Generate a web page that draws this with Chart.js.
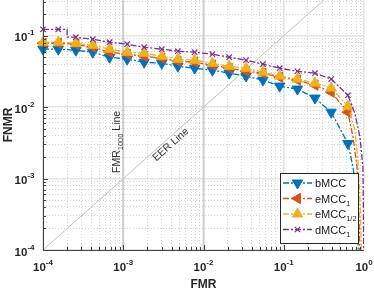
<!DOCTYPE html>
<html lang="en">
<head>
<meta charset="UTF-8">
<title>DET curves</title>
<style>
  html, body { margin: 0; padding: 0; background: #fff; }
  #det { display: block; }
</style>
</head>
<body>
<canvas id="det" width="374" height="289"></canvas>
<script src="https://cdn.jsdelivr.net/npm/chart.js@4.4.0/dist/chart.umd.min.js"></script>
<script>
// FMR positions of the markers (shared by all curves)
const fmr = [1e-4, 1.55e-4, 2.57e-4, 4.17e-4, 6.76e-4, 1.12e-3, 1.82e-3, 3.02e-3, 4.79e-3, 7.76e-3,
             1.29e-2, 2.09e-2, 3.39e-2, 5.5e-2, 8.9e-2, 0.148, 0.245, 0.39, 0.63];

// FNMR at the markers
const bMCC     = [0.0648, 0.0648, 0.0627, 0.0588, 0.050, 0.0469, 0.0426, 0.0412, 0.0374, 0.0351,
                  0.0329, 0.0299, 0.0272, 0.0239, 0.0197, 0.0179, 0.0134, 0.0085, 0.0031];
const eMCC1    = [0.0785, 0.0785, 0.076, 0.069, 0.0588, 0.0551, 0.0516, 0.0484, 0.044, 0.0426,
                  0.0387, 0.0351, 0.0318, 0.0299, 0.0263, 0.0239, 0.0203, 0.0162, 0.0085];
const eMCCHalf = [0.0811, 0.0811, 0.0785, 0.0736, 0.0648, 0.0588, 0.0569, 0.0516, 0.0469, 0.0454,
                  0.0412, 0.0374, 0.0351, 0.0309, 0.0272, 0.0247, 0.0217, 0.0185, 0.0103];
const dMCC1    = [0.123, 0.123, 0.0953, 0.0893, 0.0811, 0.076, 0.069, 0.0648, 0.0607, 0.0588,
                  0.0551, 0.050, 0.0454, 0.0399, 0.0351, 0.0318, 0.0299, 0.0247, 0.0147];

// extra curve points without markers (steps and the drop near FMR = 1)
const bExtraFmr  = [0.73, 0.82, 0.84, 0.87];
const bExtra     = [0.00145, 0.0005, 0.00017, 0.00001];
const e1ExtraFmr = [0.73, 0.82, 0.86, 0.89, 0.91];
const e1Extra    = [0.0038, 0.00145, 0.0004, 0.00008, 0.00001];
const ehExtraFmr = [0.77, 0.84, 0.9, 0.94, 0.95];
const ehExtra    = [0.0048, 0.0018, 0.0004, 0.00005, 0.00001];
const dExtraFmr  = [2.0e-4, 2.0e-4, 0.77, 0.89, 0.97, 0.985, 0.995];
const dExtra     = [0.123, 0.0953, 0.0082, 0.0038, 0.00145, 0.0003, 0.00001];

// reference lines
const eerLine = [1e-4, 0.316];
const fmrLines = [1e-3, 1e-2];

// tick labels (powers of ten)
const xTickExp = [-4, -3, -2, -1, 0];
const yTickExp = [-4, -3, -2, -1];

const names = ['bMCC', 'eMCC', 'eMCC', 'dMCC'];
const subs  = ['', '1', '1/2', '1'];
const colors = ['#0072BD', '#D95319', '#EDB120', '#7E2F8E'];
const styles = [
  {pointStyle: 'triangle', rotation: 180, radius: 6},
  {pointStyle: 'triangle', rotation: -90, radius: 6},
  {pointStyle: 'triangle', rotation: 0, radius: 6},
  {pointStyle: 'crossRot', rotation: 0, radius: 3.8}
];
const DASH = [6, 2, 2, 2];
const FONT = '"Liberation Sans", Arial, Helvetica, sans-serif';

function curve(xs, ys, exs, eys) {
  const pts = xs.map((v, i) => ({x: v, y: ys[i], m: true}));
  exs.forEach((v, i) => pts.push({x: v, y: eys[i], m: false}));
  return pts.sort((a, b) => a.x - b.x);
}

const curves = [
  curve(fmr, bMCC, bExtraFmr, bExtra),
  curve(fmr, eMCC1, e1ExtraFmr, e1Extra),
  curve(fmr, eMCCHalf, ehExtraFmr, ehExtra),
  curve(fmr, dMCC1, dExtraFmr, dExtra)
];

const datasets = curves.map((pts, i) => ({
  label: names[i] + subs[i],
  data: pts,
  borderColor: colors[i],
  backgroundColor: colors[i],
  borderWidth: 1.3,
  borderDash: DASH,
  pointStyle: styles[i].pointStyle,
  pointRotation: styles[i].rotation,
  pointRadius: (c) => (c.raw && c.raw.m ? styles[i].radius : 0),
  pointBorderWidth: i === 3 ? 1.2 : 1,
  tension: 0,
  clip: {left: 8, top: 0, right: 0, bottom: 0},
  order: 3 - i
}));

// reference lines go under the curves
datasets.push({
  data: eerLine.map(v => ({x: v, y: v})),
  borderColor: '#c2c2c2', borderWidth: 1, pointRadius: 0, order: 10
});
fmrLines.forEach(v => datasets.push({
  data: [{x: v, y: 1e-4}, {x: v, y: 0.316}],
  borderColor: '#cccccc', borderWidth: 1.8, pointRadius: 0, order: 10
}));

function isDecade(v) {
  const l = Math.log10(v);
  return Math.abs(l - Math.round(l)) < 1e-6;
}
function isMinor(v) {
  const m = v / Math.pow(10, Math.floor(Math.log10(v) + 1e-9));
  return Math.abs(m - Math.round(m)) < 1e-6 && Math.round(m) >= 2 && Math.round(m) <= 9;
}
const grid = {
  drawTicks: false,
  color: (c) => isDecade(c.tick.value) ? '#e4e4e4' : (isMinor(c.tick.value) ? '#d4d4d4' : 'rgba(0,0,0,0)'),
  lineWidth: (c) => isDecade(c.tick.value) ? 1.6 : 1
};
const border = {display: false, dash: (c) => isDecade(c.tick.value) ? [] : [1, 2]};

function powLabel(ctx, exp, x, y, align) {
  ctx.font = 'bold 11.5px ' + FONT;
  const w1 = ctx.measureText('10').width;
  ctx.font = 'bold 8px ' + FONT;
  const e = String(exp);
  const w2 = ctx.measureText(e).width;
  const x0 = align === 'center' ? x - (w1 + w2) / 2 : x - (w1 + w2);
  ctx.textAlign = 'left';
  ctx.textBaseline = 'alphabetic';
  ctx.font = 'bold 11.5px ' + FONT;
  ctx.fillText('10', x0, y);
  ctx.font = 'bold 8px ' + FONT;
  ctx.fillText(e, x0 + w1, y - 6);
}

function marker(ctx, i, x, y) {
  ctx.fillStyle = colors[i];
  ctx.strokeStyle = colors[i];
  ctx.setLineDash([]);
  ctx.lineWidth = i === 3 ? 1.2 : 1;
  Chart.helpers.drawPoint(ctx, {pointStyle: styles[i].pointStyle, rotation: styles[i].rotation,
    radius: styles[i].radius, borderWidth: ctx.lineWidth}, x, y);
}

const decor = {
  id: 'decor',
  afterDatasetsDraw(chart) {
    const {ctx, chartArea: a, scales} = chart;
    const sx = scales.x, sy = scales.y;
    ctx.save();

    // axis lines and inward ticks
    ctx.strokeStyle = '#404040';
    ctx.lineWidth = 1;
    ctx.setLineDash([]);
    ctx.beginPath();
    ctx.moveTo(a.left + 0.5, a.top);
    ctx.lineTo(a.left + 0.5, a.bottom + 0.5);
    ctx.lineTo(a.right, a.bottom + 0.5);
    for (let p = -4; p < 0; p++) {
      for (let m = 1; m <= 9; m++) {
        const v = m * Math.pow(10, p);
        const len = m === 1 ? 5 : 3;
        const px = Math.round(sx.getPixelForValue(v)) + 0.5;
        ctx.moveTo(px, a.bottom);
        ctx.lineTo(px, a.bottom - len);
        const py = Math.round(sy.getPixelForValue(v)) + 0.5;
        if (py >= a.top) {
          ctx.moveTo(a.left, py);
          ctx.lineTo(a.left + len, py);
        }
      }
    }
    ctx.stroke();

    // tick labels
    ctx.fillStyle = '#262626';
    xTickExp.forEach(e => powLabel(ctx, e, sx.getPixelForValue(Math.pow(10, e)), a.bottom + 20.5, 'center'));
    yTickExp.forEach(e => powLabel(ctx, e, a.left - 8.5, sy.getPixelForValue(Math.pow(10, e)) + 5.5, 'right'));

    // axis titles
    ctx.font = 'bold 12px ' + FONT;
    ctx.textAlign = 'center';
    ctx.textBaseline = 'alphabetic';
    ctx.fillText('FMR', (a.left + a.right) / 2, 288);
    ctx.save();
    ctx.translate(12, (a.top + a.bottom) / 2);
    ctx.rotate(-Math.PI / 2);
    ctx.fillText('FNMR', 0, 0);
    ctx.restore();

    // line annotations
    ctx.fillStyle = '#333333';
    ctx.textAlign = 'left';
    ctx.save();
    ctx.translate(sx.getPixelForValue(fmrLines[0]) - 3, 173);
    ctx.rotate(-Math.PI / 2);
    ctx.font = '10.5px ' + FONT;
    ctx.fillText('FMR', 0, 0);
    let w = ctx.measureText('FMR').width;
    ctx.font = '7.5px ' + FONT;
    ctx.fillText('1000', w, 3);
    w += ctx.measureText('1000').width;
    ctx.font = '10.5px ' + FONT;
    ctx.fillText(' Line', w, 0);
    ctx.restore();

    const ang = Math.atan2(sy.getPixelForValue(eerLine[1]) - sy.getPixelForValue(eerLine[0]),
                           sx.getPixelForValue(eerLine[1]) - sx.getPixelForValue(eerLine[0]));
    const at = Math.pow(10, -2.46);
    const d = 6.3;
    ctx.save();
    ctx.translate(sx.getPixelForValue(at) - Math.sin(ang) * d, sy.getPixelForValue(at) + Math.cos(ang) * d);
    ctx.rotate(ang);
    ctx.font = '10.5px ' + FONT;
    ctx.textAlign = 'center';
    ctx.textBaseline = 'middle';
    ctx.fillText('EER Line', 0, 0);
    ctx.restore();

    // legend
    const lx = 280.5, ly = 173.5, lw = 78, lh = 70;
    ctx.fillStyle = '#ffffff';
    ctx.fillRect(lx, ly, lw, lh);
    ctx.strokeStyle = '#262626';
    ctx.lineWidth = 1;
    ctx.setLineDash([]);
    ctx.strokeRect(lx, ly, lw, lh);
    const rows = [183, 198.5, 214, 229.5];
    rows.forEach((ry, i) => {
      ctx.strokeStyle = colors[i];
      ctx.lineWidth = 1.3;
      ctx.setLineDash(DASH);
      ctx.beginPath();
      ctx.moveTo(283, ry);
      ctx.lineTo(312, ry);
      ctx.stroke();
      marker(ctx, i, 297.5, ry);
      ctx.fillStyle = '#1a1a1a';
      ctx.textAlign = 'left';
      ctx.textBaseline = 'alphabetic';
      ctx.font = '11px ' + FONT;
      ctx.fillText(names[i], 315, ry + 4);
      if (subs[i]) {
        const nw = ctx.measureText(names[i]).width;
        ctx.font = '7.5px ' + FONT;
        ctx.fillText(subs[i], 315 + nw, ry + 7);
      }
    });

    ctx.restore();
  }
};

new Chart(document.getElementById('det').getContext('2d'), {
  type: 'line',
  data: {datasets: datasets},
  options: {
    responsive: false,
    animation: false,
    events: [],
    layout: {autoPadding: false, padding: {left: 43, right: 10, top: 0, bottom: 39}},
    scales: {
      x: {
        type: 'logarithmic', min: 1e-4, max: 1,
        ticks: {display: false},
        grid: grid, border: border
      },
      y: {
        type: 'logarithmic', min: 1e-4, max: Math.pow(10, -0.5),
        ticks: {display: false},
        grid: grid, border: border
      }
    },
    plugins: {legend: {display: false}, tooltip: {enabled: false}}
  },
  plugins: [decor]
});
</script>
</body>
</html>
